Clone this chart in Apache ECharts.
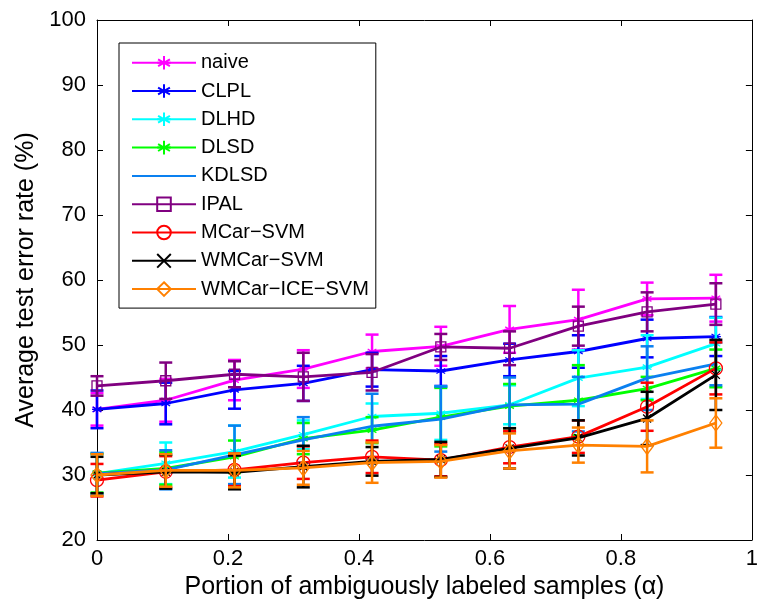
<!DOCTYPE html>
<html>
<head>
<meta charset="utf-8">
<script src="https://cdn.jsdelivr.net/npm/echarts@6/dist/echarts.min.js"></script>
<style>html,body{margin:0;padding:0;background:#fff}#c{width:761px;height:607px}</style>
</head>
<body>
<div id="c"></div>
<script>
// ---- data ----
const xValues = [0, 0.105, 0.21, 0.315, 0.42, 0.525, 0.63, 0.735, 0.84, 0.945];
const seriesNames = ['naive', 'CLPL', 'DLHD', 'DLSD', 'KDLSD', 'IPAL', 'MCar\u2212SVM', 'WMCar\u2212SVM', 'WMCar\u2212ICE\u2212SVM'];
const naiveMean = [40.1, 41.5, 44.6, 46.3, 49.0, 49.8, 52.4, 53.9, 57.1, 57.2];
const naiveErr  = [2.5, 3.3, 3.1, 2.9, 2.6, 3.0, 3.6, 4.6, 2.5, 3.6];
const clplMean  = [40.1, 41.0, 43.1, 44.1, 46.2, 46.0, 47.7, 49.0, 51.0, 51.3];
const clplErr   = [2.9, 3.2, 2.9, 2.7, 2.6, 2.3, 2.5, 2.5, 2.9, 3.0];
const dlhdMean  = [30.2, 31.8, 33.6, 36.2, 39.0, 39.5, 40.8, 44.9, 46.6, 50.2];
const dlhdErr   = [3.0, 3.2, 4.0, 2.2, 2.0, 4.1, 3.0, 4.3, 4.9, 4.0];
const dlsdMean  = [30.3, 31.0, 32.8, 35.6, 36.9, 38.9, 40.6, 41.5, 43.3, 46.4];
const dlsdErr   = [3.0, 2.5, 2.5, 2.4, 2.0, 4.5, 3.4, 5.4, 1.8, 2.9];
const kdlsdMean = [30.2, 30.8, 33.1, 35.4, 37.5, 38.6, 40.8, 40.9, 44.9, 47.1];
const kdlsdErr  = [3.2, 3.0, 4.5, 3.5, 5.0, 5.0, 4.2, 4.2, 4.9, 3.3];
const ipalMean  = [43.7, 44.5, 45.5, 45.1, 45.8, 49.7, 49.5, 52.9, 55.1, 56.3];
const ipalErr   = [1.5, 2.8, 2.0, 3.7, 2.8, 2.0, 2.6, 3.0, 3.0, 3.2];
const mcarMean  = [29.2, 30.5, 30.8, 31.9, 32.8, 32.3, 34.3, 35.9, 40.5, 46.4];
const mcarErr   = [2.5, 2.4, 2.5, 2.5, 2.5, 2.5, 2.5, 2.5, 3.7, 4.0];
const wmcarMean = [30.0, 30.5, 30.4, 31.3, 32.1, 32.4, 34.1, 35.7, 38.7, 45.4];
const wmcarErr  = [2.8, 2.6, 2.6, 3.2, 2.2, 2.7, 3.1, 2.7, 4.1, 5.4];
const iceMean   = [30.0, 30.7, 30.7, 31.1, 31.9, 32.1, 33.7, 34.6, 34.4, 38.0];
const iceErr    = [3.2, 2.5, 2.6, 2.6, 3.1, 2.5, 2.7, 2.7, 4.0, 3.8];
const yTicks = [20, 30, 40, 50, 60, 70, 80, 90, 100];
const xTicks = [0, 0.2, 0.4, 0.6, 0.8, 1];

// ---- styles ----
const FONT = "'Liberation Sans', Arial, Helvetica, sans-serif";
const ASTER = 'path://M0,-1L0,1M-0.87,-0.5L0.87,0.5M-0.87,0.5L0.87,-0.5M-1,0L1,0';
const XMARK = 'path://M-1,-1L1,1M-1,1L1,-1';
const specs = [
  {mean: naiveMean, err: naiveErr, color: '#ff00ff', symbol: ASTER, size: 10},
  {mean: clplMean,  err: clplErr,  color: '#0000ff', symbol: ASTER, size: 10},
  {mean: dlhdMean,  err: dlhdErr,  color: '#00ffff', symbol: ASTER, size: 10},
  {mean: dlsdMean,  err: dlsdErr,  color: '#00ff00', symbol: ASTER, size: 10},
  {mean: kdlsdMean, err: kdlsdErr, color: '#0a80f0', symbol: 'none', size: 0},
  {mean: ipalMean,  err: ipalErr,  color: '#800080', symbol: 'rect', size: 10},
  {mean: mcarMean,  err: mcarErr,  color: '#ff0000', symbol: 'circle', size: 13},
  {mean: wmcarMean, err: wmcarErr, color: '#000000', symbol: XMARK, size: 8},
  {mean: iceMean,   err: iceErr,   color: '#ff8000', symbol: 'diamond', size: [12, 16]}
];

function errRender(color) {
  return function (params, api) {
    const x = api.value(0), y = api.value(1), e = api.value(2);
    const top = api.coord([x, y + e]);
    const bot = api.coord([x, y - e]);
    const hw = 6.5;
    const st = {stroke: color, lineWidth: 2.5};
    return {type: 'group', children: [
      {type: 'line', shape: {x1: top[0], y1: top[1], x2: bot[0], y2: bot[1]}, style: st},
      {type: 'line', shape: {x1: top[0] - hw, y1: top[1], x2: top[0] + hw, y2: top[1]}, style: st},
      {type: 'line', shape: {x1: bot[0] - hw, y1: bot[1], x2: bot[0] + hw, y2: bot[1]}, style: st}
    ]};
  };
}

const series = [];
specs.forEach(function (s, k) {
  series.push({
    type: 'custom', name: seriesNames[k] + ' err', renderItem: errRender(s.color),
    data: xValues.map(function (x, i) { return [x, s.mean[i], s.err[i]]; }),
    encode: {x: 0, y: 1}, z: 2 + k * 0.01, silent: true, animation: false
  });
  series.push({
    type: 'line', name: seriesNames[k],
    data: xValues.map(function (x, i) { return [x, s.mean[i]]; }),
    symbol: s.symbol, symbolSize: s.size, showSymbol: s.symbol !== 'none',
    lineStyle: {color: s.color, width: 2.8},
    itemStyle: {color: 'rgba(0,0,0,0)', borderColor: s.color, borderWidth: 1.3},
    z: 2 + k * 0.01 + 0.005, animation: false
  });
});

const legendData = seriesNames.map(function (n, k) {
  if (specs[k].symbol === 'none') {
    return {name: n, itemStyle: {color: 'rgba(0,0,0,0)', borderColor: 'rgba(0,0,0,0)', borderWidth: 0}};
  }
  return {name: n};
});

const axisCommon = {
  axisLine: {show: true, onZero: false, lineStyle: {color: '#000', width: 1}},
  axisTick: {show: true, inside: true, length: 6, lineStyle: {color: '#000'}},
  splitLine: {show: false}
};

const chart = echarts.init(document.getElementById('c'), null, {renderer: 'canvas'});
chart.setOption({
  backgroundColor: '#fff',
  animation: false,
  grid: {left: 97, right: 5, top: 20, bottom: 67, containLabel: false},
  legend: {
    data: legendData,
    orient: 'vertical', left: 119, top: 43,
    backgroundColor: '#fff', borderColor: '#000', borderWidth: 1,
    padding: [9.7, 7, 9, 12], itemWidth: 64, itemHeight: 17, itemGap: 8.3,
    textStyle: {fontFamily: FONT, fontSize: 20, lineHeight: 18, color: '#000'},
    selectedMode: false
  },
  xAxis: [
    Object.assign({
      type: 'value', min: xTicks[0], max: xTicks[xTicks.length - 1], interval: 0.2, position: 'bottom',
      name: 'Portion of ambiguously labeled samples (\u03b1)', nameLocation: 'middle', nameGap: 26,
      nameTextStyle: {fontFamily: FONT, fontSize: 25, color: '#000'},
      axisLabel: {fontFamily: FONT, fontSize: 22, color: '#000', margin: 8}
    }, axisCommon),
    Object.assign({
      type: 'value', min: xTicks[0], max: xTicks[xTicks.length - 1], interval: 0.2, position: 'top',
      axisLabel: {show: false}
    }, axisCommon)
  ],
  yAxis: [
    Object.assign({
      type: 'value', min: yTicks[0], max: yTicks[yTicks.length - 1], interval: 10, position: 'left',
      name: 'Average test error rate (%)', nameLocation: 'middle', nameGap: 57,
      nameTextStyle: {fontFamily: FONT, fontSize: 25, color: '#000'},
      axisLabel: {fontFamily: FONT, fontSize: 22, color: '#000', margin: 11}
    }, axisCommon),
    Object.assign({
      type: 'value', min: yTicks[0], max: yTicks[yTicks.length - 1], interval: 10, position: 'right',
      axisLabel: {show: false}
    }, axisCommon)
  ],
  series: series
});
</script>
</body>
</html>
